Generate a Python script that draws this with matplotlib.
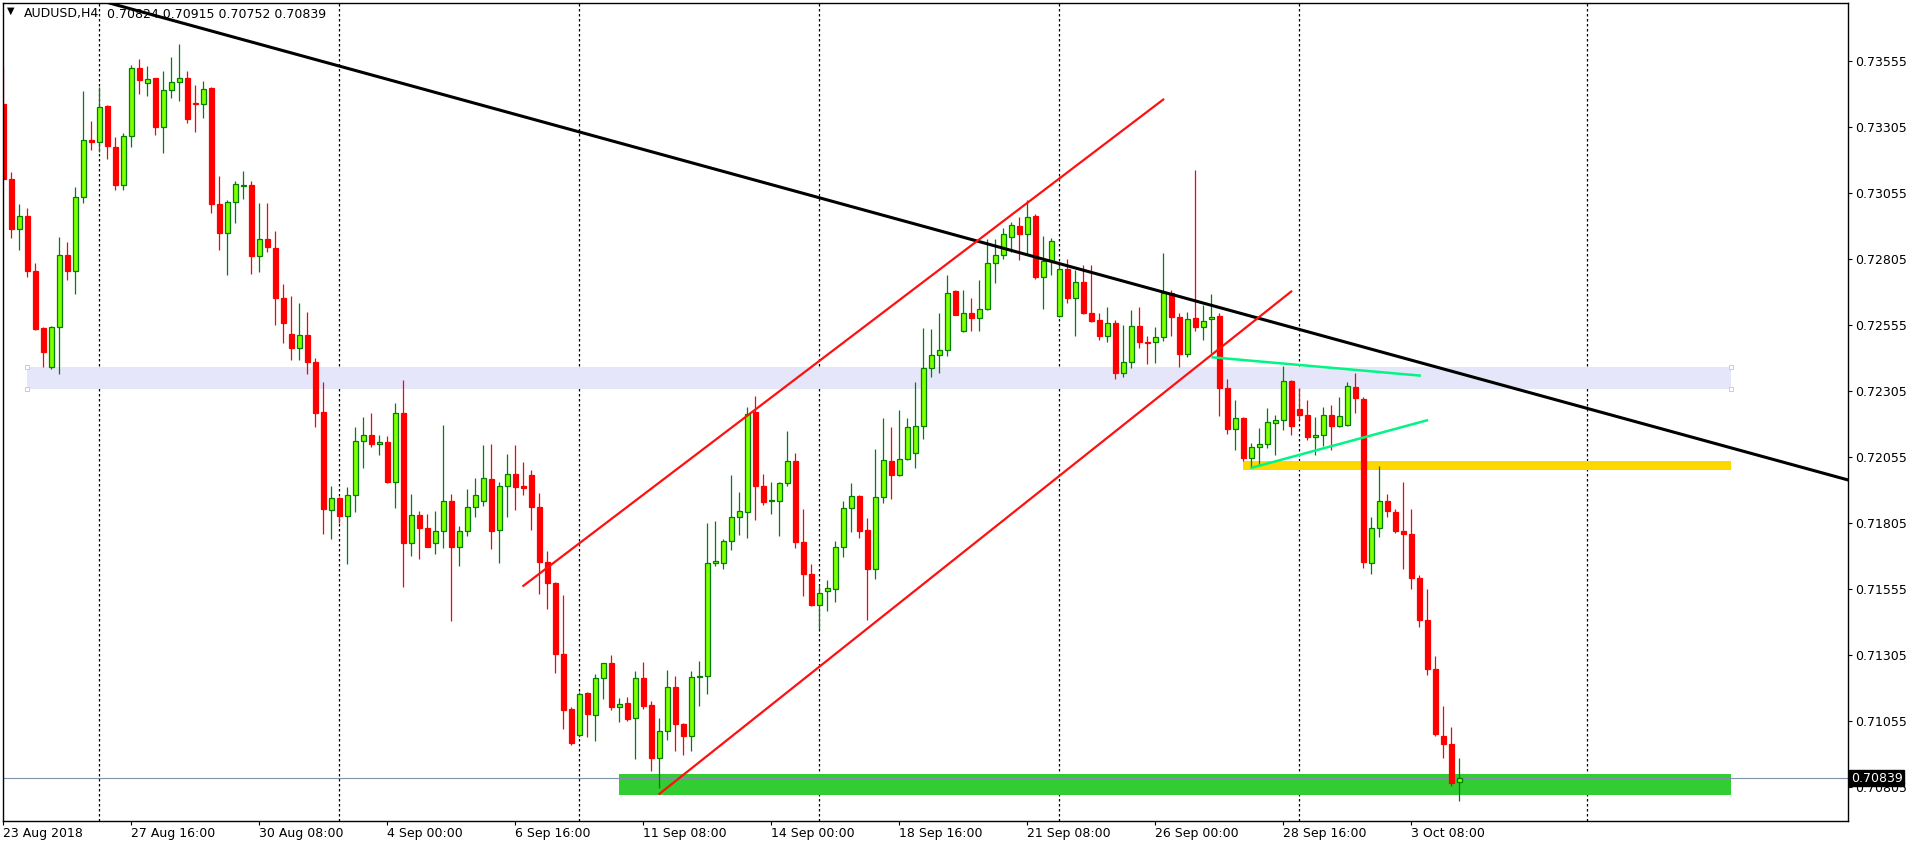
import numpy as np
import matplotlib
matplotlib.use('Agg')
import matplotlib.pyplot as plt
import matplotlib.transforms as mtransforms

# AUDUSD H4 candles, 23 Aug 2018 00:00 .. 4 Oct 2018 08:00 (bar index = position)
opens = [0.73391, 0.73108, 0.72918, 0.72969, 0.72760, 0.72545, 0.72397, 0.72547, 0.72821, 0.72758,
         0.73041, 0.73256, 0.73247, 0.73383, 0.73231, 0.73086, 0.73272, 0.73530, 0.73471, 0.73489,
         0.73305, 0.73446, 0.73477, 0.73491, 0.73395, 0.73391, 0.73452, 0.73014, 0.72903, 0.73022,
         0.73082, 0.73086, 0.72815, 0.72879, 0.72848, 0.72658, 0.72522, 0.72467, 0.72518, 0.72416,
         0.72225, 0.71855, 0.71900, 0.71832, 0.71910, 0.72117, 0.72140, 0.72103, 0.72113, 0.71959,
         0.72221, 0.71728, 0.71834, 0.71785, 0.71728, 0.71773, 0.71890, 0.71715, 0.71773, 0.71867,
         0.71890, 0.71970, 0.71777, 0.71947, 0.71990, 0.71945, 0.71986, 0.71867, 0.71658, 0.71578,
         0.71310, 0.71099, 0.71003, 0.71161, 0.71077, 0.71218, 0.71273, 0.71107, 0.71122, 0.71068,
         0.71218, 0.71115, 0.70915, 0.71017, 0.71183, 0.71044, 0.70997, 0.71220, 0.71224, 0.71654,
         0.71654, 0.71736, 0.71826, 0.71847, 0.72227, 0.71947, 0.71888, 0.71890, 0.71955, 0.72041,
         0.71732, 0.71613, 0.71494, 0.71546, 0.71556, 0.71715, 0.71863, 0.71908, 0.71777, 0.71631,
         0.71904, 0.72041, 0.71986, 0.72049, 0.72072, 0.72174, 0.72391, 0.72441, 0.72459, 0.72682,
         0.72531, 0.72600, 0.72580, 0.72615, 0.72789, 0.72821, 0.72889, 0.72930, 0.72901, 0.72969,
         0.72735, 0.72799, 0.72588, 0.72768, 0.72656, 0.72719, 0.72600, 0.72574, 0.72512, 0.72563,
         0.72373, 0.72416, 0.72551, 0.72492, 0.72492, 0.72510, 0.72676, 0.72584, 0.72447, 0.72580,
         0.72547, 0.72576, 0.72590, 0.72318, 0.72160, 0.72203, 0.72051, 0.72092, 0.72105, 0.72185,
         0.72195, 0.72342, 0.72236, 0.72213, 0.72131, 0.72140, 0.72213, 0.72174, 0.72178, 0.72320,
         0.72273, 0.71654, 0.71785, 0.71890, 0.71847, 0.71773, 0.71765, 0.71595, 0.71439, 0.71251,
         0.70997, 0.70968, 0.70824]
highs = [0.73528, 0.73133, 0.73014, 0.73000, 0.72791, 0.72547, 0.72551, 0.72889, 0.72871, 0.73077,
         0.73440, 0.73329, 0.73456, 0.73390, 0.73268, 0.73282, 0.73538, 0.73561, 0.73536, 0.73491,
         0.73516, 0.73571, 0.73618, 0.73518, 0.73463, 0.73481, 0.73456, 0.73120, 0.73030, 0.73100,
         0.73137, 0.73100, 0.73018, 0.73018, 0.72912, 0.72709, 0.72666, 0.72639, 0.72604, 0.72430,
         0.72340, 0.71945, 0.71904, 0.71941, 0.72168, 0.72207, 0.72223, 0.72140, 0.72133, 0.72260,
         0.72346, 0.71914, 0.71851, 0.71840, 0.71851, 0.72176, 0.71914, 0.71793, 0.71935, 0.71976,
         0.72101, 0.72105, 0.71961, 0.72068, 0.72101, 0.72037, 0.72006, 0.71920, 0.71699, 0.71580,
         0.71531, 0.71107, 0.71163, 0.71163, 0.71232, 0.71275, 0.71306, 0.71142, 0.71146, 0.71245,
         0.71279, 0.71130, 0.71068, 0.71249, 0.71224, 0.71048, 0.71245, 0.71281, 0.71806, 0.71814,
         0.71744, 0.71986, 0.71924, 0.72244, 0.72287, 0.71992, 0.71961, 0.71961, 0.72154, 0.72072,
         0.71859, 0.71648, 0.71568, 0.71588, 0.71736, 0.71888, 0.71955, 0.71910, 0.71824, 0.72084,
         0.72203, 0.72168, 0.72232, 0.72201, 0.72338, 0.72543, 0.72539, 0.72600, 0.72744, 0.72688,
         0.72686, 0.72658, 0.72725, 0.72881, 0.72881, 0.72924, 0.72944, 0.72965, 0.73030, 0.72975,
         0.72893, 0.72883, 0.72783, 0.72805, 0.72764, 0.72781, 0.72781, 0.72600, 0.72625, 0.72574,
         0.72555, 0.72613, 0.72625, 0.72514, 0.72547, 0.72828, 0.72688, 0.72600, 0.72606, 0.73143,
         0.72631, 0.72674, 0.72600, 0.72350, 0.72269, 0.72207, 0.72109, 0.72166, 0.72242, 0.72213,
         0.72400, 0.72345, 0.72318, 0.72269, 0.72207, 0.72244, 0.72252, 0.72281, 0.72338, 0.72375,
         0.72283, 0.71828, 0.72021, 0.71914, 0.71859, 0.71961, 0.71857, 0.71609, 0.71554, 0.71300,
         0.71111, 0.71034, 0.70915]
lows = [0.73108, 0.72883, 0.72838, 0.72735, 0.72535, 0.72395, 0.72387, 0.72371, 0.72725, 0.72672,
        0.73018, 0.73217, 0.73211, 0.73184, 0.73065, 0.73067, 0.73229, 0.73430, 0.73424, 0.73274,
        0.73206, 0.73415, 0.73403, 0.73319, 0.73286, 0.73340, 0.72979, 0.72838, 0.72744, 0.72940,
        0.73034, 0.72748, 0.72754, 0.72832, 0.72555, 0.72486, 0.72424, 0.72424, 0.72369, 0.72168,
        0.71763, 0.71746, 0.71804, 0.71648, 0.71847, 0.72013, 0.72092, 0.72062, 0.71955, 0.71863,
        0.71564, 0.71679, 0.71670, 0.71715, 0.71689, 0.71711, 0.71435, 0.71644, 0.71757, 0.71828,
        0.71869, 0.71705, 0.71654, 0.71828, 0.71855, 0.71910, 0.71777, 0.71537, 0.71480, 0.71238,
        0.71025, 0.70965, 0.70995, 0.70995, 0.70978, 0.71138, 0.71097, 0.71052, 0.71056, 0.70911,
        0.71099, 0.70866, 0.70800, 0.70982, 0.70941, 0.70925, 0.70941, 0.71111, 0.71156, 0.71644,
        0.71629, 0.71701, 0.71761, 0.71750, 0.71818, 0.71875, 0.71838, 0.71757, 0.71945, 0.71711,
        0.71527, 0.71490, 0.71404, 0.71470, 0.71507, 0.71675, 0.71771, 0.71750, 0.71439, 0.71591,
        0.71879, 0.71896, 0.71982, 0.72045, 0.72015, 0.72125, 0.72357, 0.72375, 0.72436, 0.72592,
        0.72528, 0.72531, 0.72533, 0.72611, 0.72713, 0.72805, 0.72832, 0.72801, 0.72821, 0.72730,
        0.72617, 0.72744, 0.72585, 0.72637, 0.72514, 0.72596, 0.72568, 0.72498, 0.72492, 0.72352,
        0.72357, 0.72393, 0.72467, 0.72406, 0.72412, 0.72494, 0.72512, 0.72395, 0.72432, 0.72531,
        0.72500, 0.72449, 0.72209, 0.72142, 0.72080, 0.72041, 0.72015, 0.72023, 0.72090, 0.72064,
        0.72156, 0.72137, 0.72197, 0.72121, 0.72062, 0.72098, 0.72080, 0.72170, 0.72174, 0.72223,
        0.71634, 0.71613, 0.71752, 0.71828, 0.71767, 0.71629, 0.71556, 0.71412, 0.71230, 0.71000,
        0.70913, 0.70810, 0.70752]
closes = [0.73108, 0.72918, 0.72969, 0.72758, 0.72539, 0.72451, 0.72547, 0.72821, 0.72758, 0.73041,
          0.73256, 0.73247, 0.73381, 0.73233, 0.73086, 0.73272, 0.73530, 0.73483, 0.73485, 0.73305,
          0.73446, 0.73477, 0.73491, 0.73336, 0.73391, 0.73450, 0.73012, 0.72903, 0.73022, 0.73090,
          0.73086, 0.72815, 0.72879, 0.72850, 0.72656, 0.72563, 0.72467, 0.72518, 0.72414, 0.72223,
          0.71857, 0.71900, 0.71832, 0.71910, 0.72117, 0.72140, 0.72103, 0.72111, 0.71959, 0.72221,
          0.71728, 0.71834, 0.71785, 0.71715, 0.71773, 0.71890, 0.71715, 0.71773, 0.71867, 0.71910,
          0.71974, 0.71773, 0.71947, 0.71990, 0.71941, 0.71939, 0.71865, 0.71658, 0.71576, 0.71310,
          0.71097, 0.70970, 0.71159, 0.71081, 0.71218, 0.71273, 0.71107, 0.71120, 0.71064, 0.71218,
          0.71113, 0.70915, 0.71017, 0.71183, 0.71044, 0.70997, 0.71220, 0.71224, 0.71654, 0.71662,
          0.71736, 0.71826, 0.71851, 0.72219, 0.71947, 0.71884, 0.71892, 0.71955, 0.72041, 0.71732,
          0.71613, 0.71496, 0.71541, 0.71558, 0.71715, 0.71863, 0.71908, 0.71773, 0.71629, 0.71904,
          0.72045, 0.71986, 0.72049, 0.72168, 0.72174, 0.72391, 0.72441, 0.72461, 0.72678, 0.72592,
          0.72600, 0.72580, 0.72615, 0.72789, 0.72821, 0.72899, 0.72934, 0.72901, 0.72965, 0.72735,
          0.72799, 0.72875, 0.72768, 0.72656, 0.72719, 0.72600, 0.72572, 0.72512, 0.72563, 0.72373,
          0.72416, 0.72551, 0.72490, 0.72488, 0.72510, 0.72676, 0.72584, 0.72447, 0.72576, 0.72547,
          0.72572, 0.72586, 0.72316, 0.72162, 0.72203, 0.72051, 0.72092, 0.72105, 0.72187, 0.72195,
          0.72342, 0.72174, 0.72213, 0.72131, 0.72140, 0.72213, 0.72174, 0.72209, 0.72324, 0.72277,
          0.71658, 0.71785, 0.71890, 0.71849, 0.71773, 0.71765, 0.71595, 0.71439, 0.71251, 0.71005,
          0.70966, 0.70821, 0.70839]

symbol = 'AUDUSD,H4'
xtick_bars = [0, 16, 32, 48, 64, 80, 96, 112, 128, 144, 160, 176]
xtick_labels = ['23 Aug 2018', '27 Aug 16:00', '30 Aug 08:00', '4 Sep 00:00', '6 Sep 16:00',
                '11 Sep 08:00', '14 Sep 00:00', '18 Sep 16:00', '21 Sep 08:00', '26 Sep 00:00',
                '28 Sep 16:00', '3 Oct 08:00']
yticks = [0.73555, 0.73305, 0.73055, 0.72805, 0.72555, 0.72305,
          0.72055, 0.71805, 0.71555, 0.71305, 0.71055, 0.70805]
week_bars = [12, 42, 72, 102, 132, 162, 198]

# drawn objects: (bar, price) pairs
black_trend = [(13.1, 0.73776), (230.6, 0.71968)]
red_upper = [(64.9, 0.715645), (145.1, 0.734114)]
red_lower = [(81.9, 0.707762), (161.1, 0.726845)]
mint_upper = [(151.0, 0.72433), (177.2, 0.72363)]
mint_lower = [(155.9, 0.72013), (178.1, 0.72195)]
# zones: (bar_from, bar_to, price_low, price_high)
zone_lavender = (2.96, 215.96, 0.723126, 0.723959)
zone_yellow = (155.0, 215.96, 0.720058, 0.720398)
zone_green = (77.0, 215.96, 0.707762, 0.708542)

####################################

opens = np.array(opens); highs = np.array(highs)
lows = np.array(lows); closes = np.array(closes)
x = np.arange(len(opens))
bull = closes >= opens

W, H = 1916, 847
fig = plt.figure(figsize=(W / 100, H / 100), dpi=100)
ax = fig.add_axes([2.7 / W, 1 - 820.5 / H, (1848 - 2.7) / W, (820.5 - 2.7) / H])
ax.set_xlim(-0.075, 230.59)
ax.set_ylim(0.706781, 0.737758)

# weekly separators
for wb in week_bars:
    ax.axvline(wb, color='black', lw=0.9, ls=(0, (2, 2)), zorder=0.5)

# zones
for (x0, x1, y0, y1), col in [(zone_lavender, '#e6e6fa'), (zone_yellow, '#ffd700'),
                              (zone_green, '#32cd32')]:
    ax.fill_between([x0, x1], y0, y1, color=col, lw=0, zorder=1)
lx0, lx1, ly0, ly1 = zone_lavender
ax.plot([lx0, lx0, lx1, lx1], [ly0, ly1, ly0, ly1], 's', ms=3.2, mfc='white',
        mec='#c8c8ec', mew=0.7, zorder=1.2, clip_on=False)

# current price line
ax.axhline(closes[-1], color='#8090a8', lw=0.8, zorder=1.5)

# candles
bull_col, bull_edge, bear_col = '#80ff00', '#008000', '#ff0000'
ax.vlines(x[bull], lows[bull], highs[bull], color=bull_edge, lw=0.9, zorder=2)
ax.vlines(x[~bull], lows[~bull], highs[~bull], color=bear_col, lw=0.9, zorder=2)
body = np.maximum(np.abs(closes - opens), 0.00003)
bottom = np.minimum(opens, closes)
ax.bar(x[bull], body[bull], bottom=bottom[bull], width=0.62, color=bull_col,
       edgecolor=bull_edge, lw=0.9, zorder=2.2)
ax.bar(x[~bull], body[~bull], bottom=bottom[~bull], width=0.62, color=bear_col,
       edgecolor=bear_col, lw=0.9, zorder=2.2)

# trend lines
ax.axline(*black_trend, color='black', lw=2.2, zorder=3)
for pts in (red_upper, red_lower):
    ax.plot([p[0] for p in pts], [p[1] for p in pts], color='#ff1010', lw=1.6,
            zorder=3, solid_capstyle='butt')
for pts in (mint_upper, mint_lower):
    ax.plot([p[0] for p in pts], [p[1] for p in pts], color='#00f585', lw=1.8,
            zorder=3, solid_capstyle='butt')

# axes look
for sp in ax.spines.values():
    sp.set_linewidth(1.0)
    sp.set_color('black')
ax.yaxis.tick_right()
ax.set_yticks(yticks)
ax.set_yticklabels(['%.5f' % v for v in yticks])
ax.set_xticks(xtick_bars)
ax.set_xticklabels(xtick_labels)
for lbl in ax.get_xticklabels():
    lbl.set_ha('left')
ax.tick_params(axis='both', direction='out', length=3, width=0.8, labelsize=9,
               pad=2, colors='black')

# last price tag on the price scale
trans = mtransforms.blended_transform_factory(ax.transAxes, ax.transData)
ax.text(1.0015, closes[-1], '%.5f' % closes[-1], transform=trans, ha='left', va='center',
        color='white', fontsize=9, clip_on=False, zorder=6,
        bbox=dict(facecolor='black', edgecolor='black', pad=1.2))

# header
fig.text(7 / W, 1 - 11 / H, u'\u25bc', fontsize=7, va='center', ha='left', color='black')
fig.text(24 / W, 1 - 14 / H, symbol, fontsize=9, va='center', ha='left', color='black')
fig.text(107 / W, 1 - 14 / H, '%.5f %.5f %.5f %.5f' % (opens[-1], highs[-1], lows[-1], closes[-1]),
         fontsize=9, va='center', ha='left', color='black')

fig.savefig('out.png', dpi=100)
